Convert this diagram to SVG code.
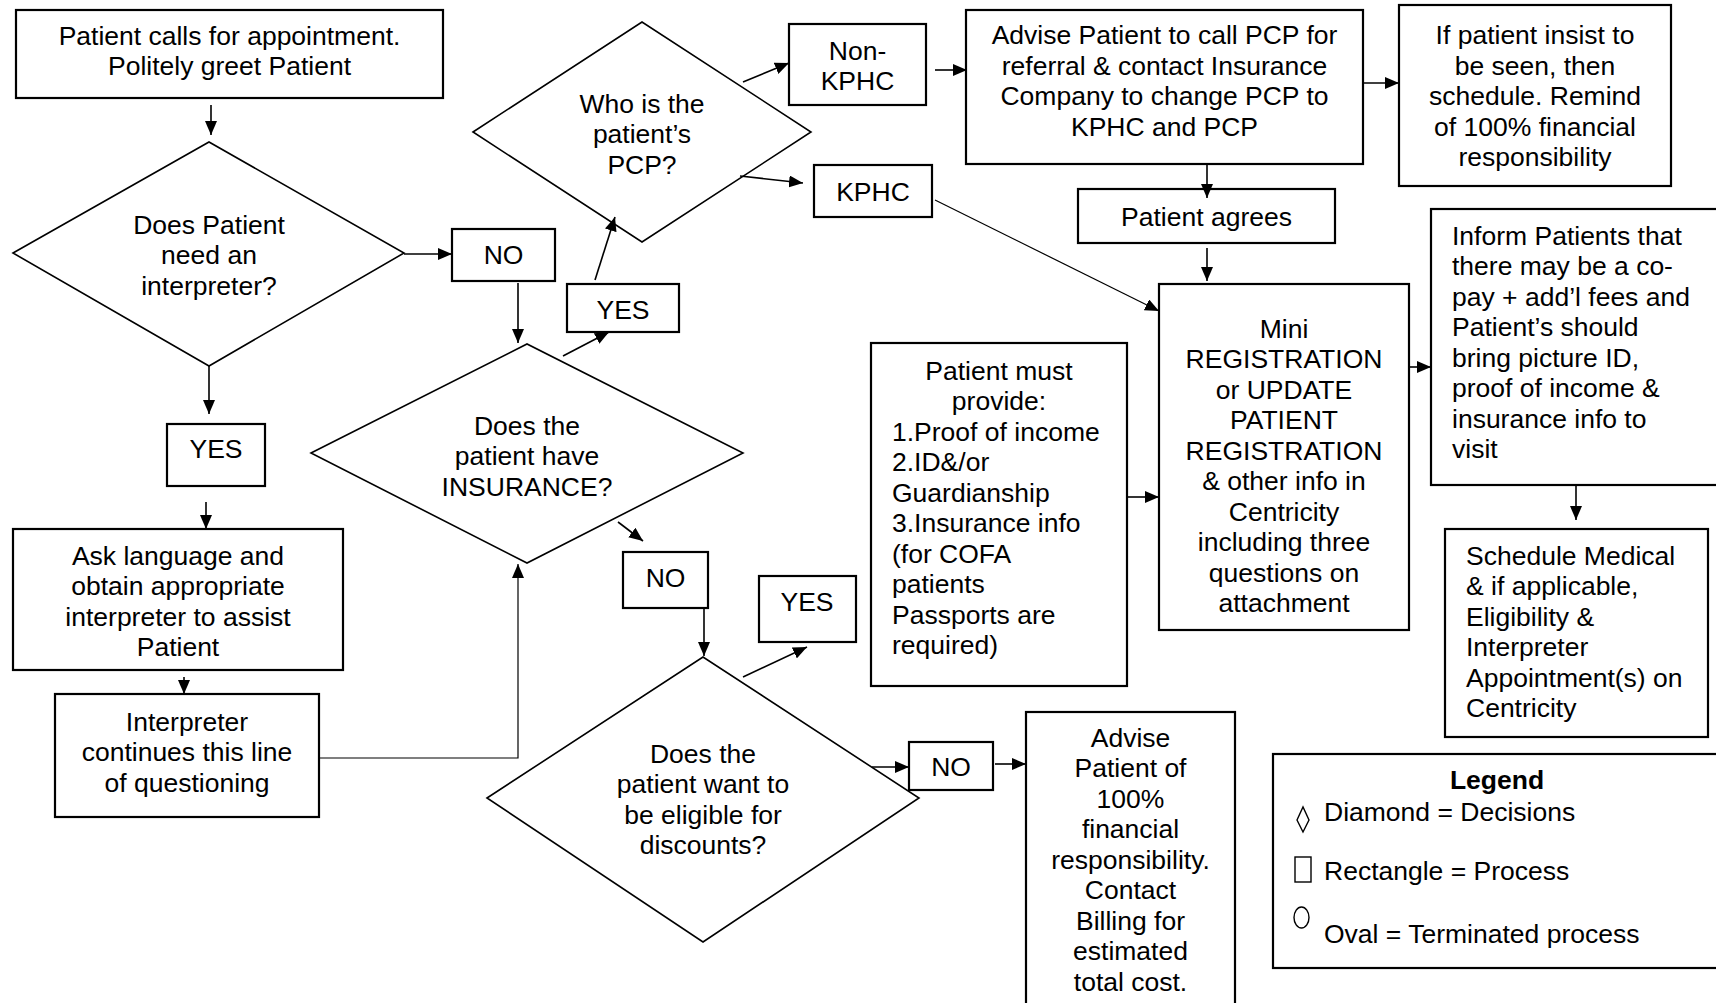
<svg xmlns="http://www.w3.org/2000/svg" width="1716" height="1003" viewBox="0 0 1716 1003">
<style>
text{font-family:"Liberation Sans",Arial,sans-serif;font-size:26.5px;fill:#000}
.c{text-anchor:middle}
.b{font-weight:bold}
.box{fill:#fff;stroke:#000;stroke-width:2.2}
.dia{fill:#fff;stroke:#000;stroke-width:1.6}
.ln{fill:none;stroke:#000;stroke-width:1.6;marker-end:url(#ah)}
.thin{fill:none;stroke:#000;stroke-width:1.2;marker-end:url(#ah)}
.sym{fill:none;stroke:#000;stroke-width:1.4}
</style>
<defs>
<marker id="ah" markerWidth="14" markerHeight="12" refX="14" refY="6" orient="auto" markerUnits="userSpaceOnUse">
<path d="M0,0 L14,6 L0,12 z" fill="#000"/>
</marker>
</defs>
<rect width="1716" height="1003" fill="#fff"/>

<g id="n-start">
<rect class="box" x="16" y="10" width="427" height="88"/>
<text class="c" x="229.5" y="44.5">Patient calls for appointment.</text>
<text class="c" x="229.5" y="75">Politely greet Patient</text>
</g>

<g id="d-interpreter">
<polygon class="dia" points="13,253 209,142 404,253 209,366"/>
<text class="c" x="209" y="233.5">Does Patient</text>
<text class="c" x="209" y="264">need an</text>
<text class="c" x="209" y="294.5">interpreter?</text>
</g>

<g id="n-no1">
<rect class="box" x="452" y="229" width="103" height="52"/>
<text class="c" x="503.5" y="264">NO</text>
</g>

<g id="n-yes1">
<rect class="box" x="167" y="424" width="98" height="62"/>
<text class="c" x="216" y="458">YES</text>
</g>

<g id="n-ask">
<rect class="box" x="13" y="529" width="330" height="141"/>
<text class="c" x="178" y="564.5">Ask language and</text>
<text class="c" x="178" y="595">obtain appropriate</text>
<text class="c" x="178" y="625.5">interpreter to assist</text>
<text class="c" x="178" y="656">Patient</text>
</g>

<g id="n-interp">
<rect class="box" x="55" y="694" width="264" height="123"/>
<text class="c" x="187" y="730.5">Interpreter</text>
<text class="c" x="187" y="761">continues this line</text>
<text class="c" x="187" y="791.5">of questioning</text>
</g>

<g id="d-insurance">
<polygon class="dia" points="311,453 527,344 743,453 527,563"/>
<text class="c" x="527" y="434.5">Does the</text>
<text class="c" x="527" y="465">patient have</text>
<text class="c" x="527" y="495.5">INSURANCE?</text>
</g>

<g id="n-yes2">
<rect class="box" x="567" y="284" width="112" height="48"/>
<text class="c" x="623" y="318.5">YES</text>
</g>

<g id="d-pcp">
<polygon class="dia" points="473,132 642,22 811,132 642,242"/>
<text class="c" x="642" y="112.5">Who is the</text>
<text class="c" x="642" y="143">patient’s</text>
<text class="c" x="642" y="173.5">PCP?</text>
</g>

<g id="n-nonkphc">
<rect class="box" x="789" y="24" width="137" height="81"/>
<text class="c" x="857.5" y="59.5">Non-</text>
<text class="c" x="857.5" y="90">KPHC</text>
</g>

<g id="n-kphc">
<rect class="box" x="814" y="165" width="118" height="52"/>
<text class="c" x="873" y="201">KPHC</text>
</g>

<g id="n-advise-pcp">
<rect class="box" x="966" y="10" width="397" height="154"/>
<text class="c" x="1164.5" y="44">Advise Patient to call PCP for</text>
<text class="c" x="1164.5" y="74.5">referral &amp; contact Insurance</text>
<text class="c" x="1164.5" y="105">Company to change PCP to</text>
<text class="c" x="1164.5" y="135.5">KPHC and PCP</text>
</g>

<g id="n-insist">
<rect class="box" x="1399" y="5" width="272" height="181"/>
<text class="c" x="1535" y="44">If patient insist to</text>
<text class="c" x="1535" y="74.5">be seen, then</text>
<text class="c" x="1535" y="105">schedule. Remind</text>
<text class="c" x="1535" y="135.5">of 100% financial</text>
<text class="c" x="1535" y="166">responsibility</text>
</g>

<g id="n-agrees">
<rect class="box" x="1078" y="189" width="257" height="54"/>
<text class="c" x="1206.5" y="225.5">Patient agrees</text>
</g>

<g id="n-mini">
<rect class="box" x="1159" y="284" width="250" height="346"/>
<text class="c" x="1284" y="337.5">Mini</text>
<text class="c" x="1284" y="368">REGISTRATION</text>
<text class="c" x="1284" y="398.5">or UPDATE</text>
<text class="c" x="1284" y="429">PATIENT</text>
<text class="c" x="1284" y="459.5">REGISTRATION</text>
<text class="c" x="1284" y="490">&amp; other info in</text>
<text class="c" x="1284" y="520.5">Centricity</text>
<text class="c" x="1284" y="551">including three</text>
<text class="c" x="1284" y="581.5">questions on</text>
<text class="c" x="1284" y="612">attachment</text>
</g>

<g id="n-must">
<rect class="box" x="871" y="343" width="256" height="343"/>
<text class="c" x="999" y="379.5">Patient must</text>
<text class="c" x="999" y="410">provide:</text>
<text x="892" y="440.5">1.Proof of income</text>
<text x="892" y="471">2.ID&amp;/or</text>
<text x="892" y="501.5">Guardianship</text>
<text x="892" y="532">3.Insurance info</text>
<text x="892" y="562.5">(for COFA</text>
<text x="892" y="593">patients</text>
<text x="892" y="623.5">Passports are</text>
<text x="892" y="654">required)</text>
</g>

<g id="n-inform">
<rect class="box" x="1431" y="209" width="300" height="276"/>
<text x="1452" y="244.5">Inform Patients that</text>
<text x="1452" y="275">there may be a co-</text>
<text x="1452" y="305.5">pay + add’l fees and</text>
<text x="1452" y="336">Patient’s should</text>
<text x="1452" y="366.5">bring picture ID,</text>
<text x="1452" y="397">proof of income &amp;</text>
<text x="1452" y="427.5">insurance info to</text>
<text x="1452" y="458">visit</text>
</g>

<g id="n-schedule">
<rect class="box" x="1445" y="529" width="263" height="208"/>
<text x="1466" y="564.5">Schedule Medical</text>
<text x="1466" y="595">&amp; if applicable,</text>
<text x="1466" y="625.5">Eligibility &amp;</text>
<text x="1466" y="656">Interpreter</text>
<text x="1466" y="686.5">Appointment(s) on</text>
<text x="1466" y="717">Centricity</text>
</g>

<g id="n-no3">
<rect class="box" x="623" y="552" width="85" height="56"/>
<text class="c" x="665.5" y="587">NO</text>
</g>

<g id="d-discounts">
<polygon class="dia" points="487,798 703,657 919,798 703,942"/>
<text class="c" x="703" y="762.5">Does the</text>
<text class="c" x="703" y="793">patient want to</text>
<text class="c" x="703" y="823.5">be eligible for</text>
<text class="c" x="703" y="854">discounts?</text>
</g>

<g id="n-yes3">
<rect class="box" x="759" y="576" width="97" height="66"/>
<text class="c" x="807" y="611">YES</text>
</g>

<g id="n-no4">
<rect class="box" x="909" y="742" width="84" height="48"/>
<text class="c" x="951" y="776">NO</text>
</g>

<g id="n-advise-100">
<rect class="box" x="1026" y="712" width="209" height="310"/>
<text class="c" x="1130.5" y="746.5">Advise</text>
<text class="c" x="1130.5" y="777">Patient of</text>
<text class="c" x="1130.5" y="807.5">100%</text>
<text class="c" x="1130.5" y="838">financial</text>
<text class="c" x="1130.5" y="868.5">responsibility.</text>
<text class="c" x="1130.5" y="899">Contact</text>
<text class="c" x="1130.5" y="929.5">Billing for</text>
<text class="c" x="1130.5" y="960">estimated</text>
<text class="c" x="1130.5" y="990.5">total cost.</text>
</g>

<g id="legend">
<rect class="box" x="1273" y="754" width="460" height="214"/>
<text class="c b" x="1497" y="789">Legend</text>
<polygon class="sym" points="1297,820 1303,807 1309,820 1303,832"/>
<text x="1324" y="820.5">Diamond = Decisions</text>
<rect class="sym" x="1295" y="857" width="16" height="25"/>
<text x="1324" y="879.5">Rectangle = Process</text>
<ellipse class="sym" cx="1301.5" cy="917.5" rx="7.5" ry="10.5"/>
<text x="1324" y="942.5">Oval = Terminated process</text>
</g>

<g id="connectors">
<path class="ln" d="M211,105 L211,135"/>
<path class="ln" d="M404,254 L452,254"/>
<path class="ln" d="M518,283 L518,343"/>
<path class="ln" d="M209,366 L209,414"/>
<path class="ln" d="M206,502 L206,529"/>
<path class="ln" d="M184,677 L184,694"/>
<path class="thin" d="M319,758 L518,758 L518,564"/>
<path class="ln" d="M563,356 L609,332"/>
<path class="ln" d="M595,280 L615,217"/>
<path class="ln" d="M743,82 L789,63"/>
<path class="ln" d="M740,176 L803,183"/>
<path class="ln" d="M935,70 L967,70"/>
<path class="ln" d="M1363,83 L1399,83"/>
<path class="ln" d="M1207,164 L1207,198"/>
<path class="ln" d="M1207,248 L1207,281"/>
<path class="thin" d="M935,200 L1159,311"/>
<path class="ln" d="M1127,497 L1159,497"/>
<path class="ln" d="M1409,367 L1431,367"/>
<path class="ln" d="M1576,485 L1576,520"/>
<path class="ln" d="M618,522 L643,541"/>
<path class="ln" d="M704,608 L704,656"/>
<path class="ln" d="M743,677 L807,647"/>
<path class="ln" d="M872,767 L909,767"/>
<path class="ln" d="M995,764 L1026,764"/>
</g>
</svg>
